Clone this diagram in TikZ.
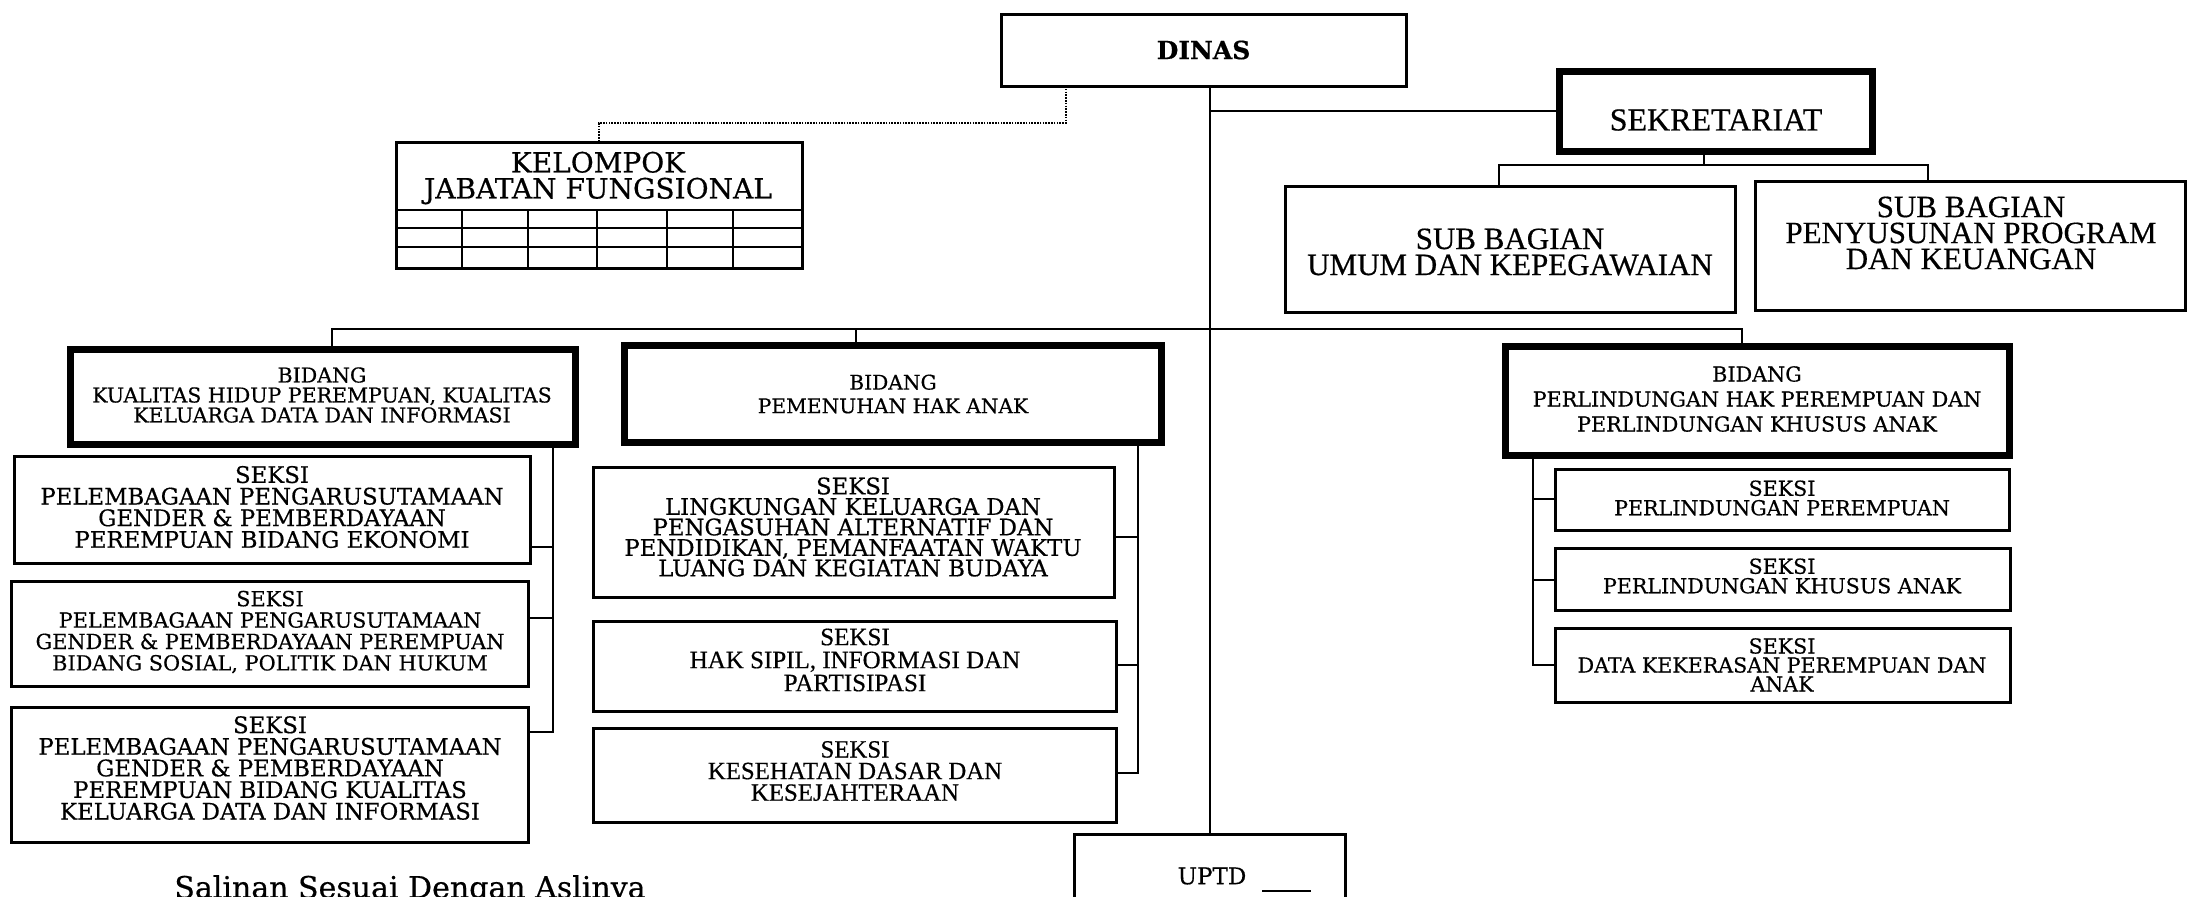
\documentclass[tikz,border=0pt]{standalone}
\usepackage{fontspec}
\setmainfont{DejaVu Serif}[FakeBold=0.5]
\newfontfamily\tms{Liberation Serif}[FakeBold=0.5]
\begin{document}
\begin{tikzpicture}[x=0.5pt,y=-0.5pt,
  box/.style={draw, line width=1.5pt, inner sep=0pt, outer sep=0pt},
  thickbox/.style={draw, line width=3.5pt, inner sep=0pt, outer sep=0pt},
  txt/.style={align=center, inner sep=0pt},
  link/.style={line width=1.1pt},
  gridline/.style={line width=1.4pt},
  dotlink/.style={line width=1pt, dash pattern=on 0.8pt off 0.6pt}]
\useasboundingbox (0,0) rectangle (2187,896);

% DINAS
\node[box, minimum width=202.5pt, minimum height=36pt] (dinas) at (1203.5,50) {};
\node[txt, font=\bfseries\fontsize{12.5}{14}\selectfont] (dinasT) at (1203.5,50) {DINAS};

% KELOMPOK
\node[box, minimum width=203pt, minimum height=63pt] (kel) at (599,205) {};
\node[txt, font=\fontsize{14}{13}\selectfont] (kelT) at (598,178) {KELOMPOK\\JABATAN FUNGSIONAL};
\draw[gridline] (396,210) -- (802,210) (396,228) -- (802,228) (396,247) -- (802,247);
\foreach \gx in {462,528,597,667,733} \draw[gridline] (\gx,210) -- (\gx,268);

% SEKRETARIAT
\node[thickbox, minimum width=156.5pt, minimum height=40pt] (sek) at (1715.5,111) {};
\node[txt, font=\tms\fontsize{16}{16}\selectfont] (sekT) at (1716,120) {SEKRETARIAT};

\node[box, minimum width=225pt, minimum height=63pt] (sb1) at (1510,249) {};
\node[txt, font=\tms\fontsize{15.5}{13}\selectfont] (sb1T) at (1510,252) {SUB BAGIAN\\UMUM DAN KEPEGAWAIAN};
\node[box, minimum width=215pt, minimum height=64.5pt] (sb2) at (1970,245.5) {};
\node[txt, font=\tms\fontsize{15.5}{13}\selectfont] (sb2T) at (1971,233) {SUB BAGIAN\\PENYUSUNAN PROGRAM\\DAN KEUANGAN};

% BIDANG 1
\node[thickbox, minimum width=252.5pt, minimum height=47.5pt] (b1) at (322.5,396.5) {};
\node[txt, font=\fontsize{10.25}{10}\selectfont] (b1T) at (322,395) {BIDANG\\KUALITAS HIDUP PEREMPUAN, KUALITAS\\KELUARGA DATA DAN INFORMASI};
\node[box, minimum width=258pt, minimum height=53.5pt] (s1a) at (272,509.5) {};
\node[txt, font=\fontsize{11.4}{10.8}\selectfont] (s1aT) at (272,507) {SEKSI\\PELEMBAGAAN PENGARUSUTAMAAN\\GENDER \& PEMBERDAYAAN\\PEREMPUAN BIDANG EKONOMI};
\node[box, minimum width=258.5pt, minimum height=52.5pt] (s1b) at (269.5,633.5) {};
\node[txt, font=\fontsize{10.4}{10.7}\selectfont] (s1bT) at (270,632) {SEKSI\\PELEMBAGAAN PENGARUSUTAMAAN\\GENDER \& PEMBERDAYAAN PEREMPUAN\\BIDANG SOSIAL, POLITIK DAN HUKUM};
\node[box, minimum width=258.5pt, minimum height=67.5pt] (s1c) at (269.5,774.5) {};
\node[txt, font=\fontsize{11.4}{10.8}\selectfont] (s1cT) at (270,768) {SEKSI\\PELEMBAGAAN PENGARUSUTAMAAN\\GENDER \& PEMBERDAYAAN\\PEREMPUAN BIDANG KUALITAS\\KELUARGA DATA DAN INFORMASI};

% BIDANG 2
\node[thickbox, minimum width=268.5pt, minimum height=48.5pt] (b2) at (892.5,393.5) {};
\node[txt, font=\fontsize{10.1}{11.8}\selectfont] (b2T) at (893,394) {BIDANG\\PEMENUHAN HAK ANAK};
\node[box, minimum width=260.5pt, minimum height=65pt] (s2a) at (853.5,532) {};
\node[txt, font=\fontsize{11.4}{10.25}\selectfont] (s2aT) at (853,527) {SEKSI\\LINGKUNGAN KELUARGA DAN\\PENGASUHAN ALTERNATIF DAN\\PENDIDIKAN, PEMANFAATAN WAKTU\\LUANG DAN KEGIATAN BUDAYA};
\node[box, minimum width=261.5pt, minimum height=45pt] (s2b) at (854.5,666) {};
\node[txt, font=\tms\fontsize{12.5}{11.5}\selectfont] (s2bT) at (855,660) {SEKSI\\HAK SIPIL, INFORMASI DAN\\PARTISIPASI};
\node[box, minimum width=261.5pt, minimum height=47pt] (s2c) at (854.5,775) {};
\node[txt, font=\tms\fontsize{12.4}{10.8}\selectfont] (s2cT) at (855,771) {SEKSI\\KESEHATAN DASAR DAN\\KESEJAHTERAAN};

% BIDANG 3
\node[thickbox, minimum width=252pt, minimum height=54.5pt] (b3) at (1757,400.5) {};
\node[txt, font=\fontsize{10.35}{12.5}\selectfont] (b3T) at (1757,399) {BIDANG\\PERLINDUNGAN HAK PEREMPUAN DAN\\PERLINDUNGAN KHUSUS ANAK};
\node[box, minimum width=227pt, minimum height=30.5pt] (s3a) at (1782,499.5) {};
\node[txt, font=\fontsize{10.3}{9.75}\selectfont] (s3aT) at (1782,498) {SEKSI\\PERLINDUNGAN PEREMPUAN};
\node[box, minimum width=227.5pt, minimum height=31pt] (s3b) at (1782.5,579) {};
\node[txt, font=\fontsize{10.3}{9.75}\selectfont] (s3bT) at (1782,576) {SEKSI\\PERLINDUNGAN KHUSUS ANAK};
\node[box, minimum width=227.5pt, minimum height=37pt] (s3c) at (1782.5,665) {};
\node[txt, font=\fontsize{10.3}{9.5}\selectfont] (s3cT) at (1782,665) {SEKSI\\DATA KEKERASAN PEREMPUAN DAN\\ANAK};

% UPTD
\node[box, minimum width=135.5pt, minimum height=53pt] (uptd) at (1210,887) {};
\node[txt, font=\fontsize{11.5}{12}\selectfont] (uptdT) at (1212,876) {UPTD};
\draw[gridline] (1262,891) -- (1311,891);

\node[txt, anchor=base west, font=\fontsize{15}{16}\selectfont] (salinan) at (174,898) {Salinan Sesuai Dengan Aslinya};

% connectors
\draw[link] (uptd.north |- dinas.south) -- (uptd.north);
\draw[link] (uptd.north |- sek.west) -- (sek.west);
\coordinate (dk) at (1066,123);
\draw[dotlink] (dk |- dinas.south) -- (dk) -| (kel.north);
\coordinate (sj) at (1704,165);
\coordinate (sjl) at (1499,165);
\coordinate (sjr) at (1928,165);
\draw[link] (sj |- sek.south) -- (sj);
\draw[link] (sjl |- sb1.north) -- (sjl) -- (sjr) -- (sjr |- sb2.north);

\coordinate (bl) at (332,329);
\coordinate (bm) at (856,329);
\coordinate (br) at (1742,329);
\draw[link] (bl |- b1.north) -- (bl) -- (br) -- (br |- b3.north);
\draw[link] (bm) -- (bm |- b2.north);

\coordinate (v1a) at (553,547);
\coordinate (v1b) at (553,618);
\coordinate (v1c) at (553,732);
\draw[link] (v1a |- b1.south) -- (v1c) -- (v1c -| s1c.east);
\draw[link] (v1a) -- (v1a -| s1a.east);
\draw[link] (v1b) -- (v1b -| s1b.east);

\coordinate (v2a) at (1138,537);
\coordinate (v2b) at (1138,665);
\coordinate (v2c) at (1138,773);
\draw[link] (v2a |- b2.south) -- (v2c) -- (v2c -| s2c.east);
\draw[link] (v2a) -- (v2a -| s2a.east);
\draw[link] (v2b) -- (v2b -| s2b.east);

\coordinate (v3a) at (1533,499);
\coordinate (v3b) at (1533,580);
\coordinate (v3c) at (1533,665);
\draw[link] (v3a |- b3.south) -- (v3c) -- (v3c -| s3c.west);
\draw[link] (v3a) -- (v3a -| s3a.west);
\draw[link] (v3b) -- (v3b -| s3b.west);
\end{tikzpicture}
\end{document}
